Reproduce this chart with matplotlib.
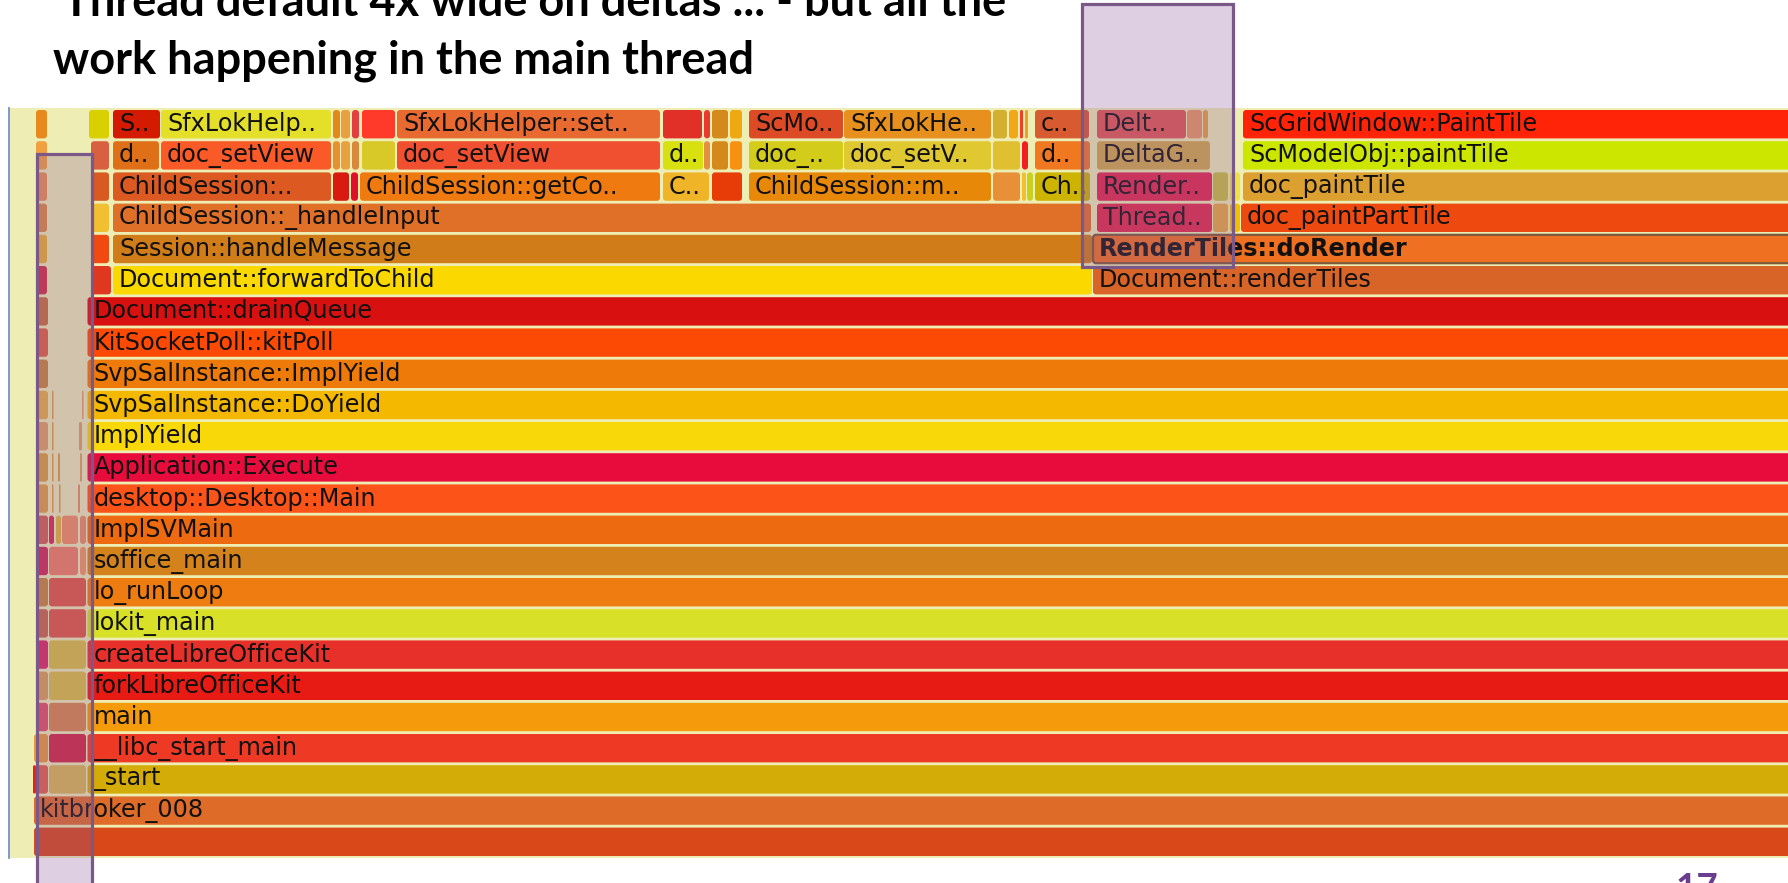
import matplotlib
matplotlib.use("Agg")
import matplotlib.pyplot as plt
from matplotlib.patches import FancyBboxPatch, Rectangle

# ---------------- data ----------------
title_lines = ['"Thread default 4x wide on deltas ... - but all the',
               "work happening in the main thread"]
page_number = "17"

# stack frames: depth (0 = root), first sample, last sample, label
frame_depth = []
frame_start = []
frame_end = []
frame_label = []
frame_color = []   # style only (flame palette)

def row(depth, items):
    for s, e, lab, col in items:
        frame_depth.append(depth)
        frame_start.append(s)
        frame_end.append(e)
        frame_label.append(lab)
        frame_color.append(col)

row(0, [(34, 1800, "", "#d84818")])
row(1, [(34, 1800, "kitbroker_008", "#de6c28")])
row(2, [(33, 36, "", "#f02010"), (36, 48, "", "#e06048"), (49, 86, "", "#d8b850"),
        (87.5, 1800, "_start", "#d4ac08")])
row(3, [(34, 48, "", "#e89a38"), (49, 86, "", "#d02840"),
        (87.5, 1800, "__libc_start_main", "#ee3a24")])
row(4, [(36, 48, "", "#e05060"), (49, 86, "", "#d88848"), (87.5, 1800, "main", "#f59a0a")])
row(5, [(36, 48, "", "#d8a050"), (49, 86, "", "#d8c040"),
        (87.5, 1800, "forkLibreOfficeKit", "#e81a14")])
row(6, [(36, 48, "", "#d82a60"), (49, 86, "", "#d8c040"),
        (87.5, 1800, "createLibreOfficeKit", "#e8302a")])
row(7, [(36, 48, "", "#c86848"), (49, 86, "", "#e05840"), (87.5, 1800, "lokit_main", "#d8e028")])
row(8, [(36, 48, "", "#c88838"), (49, 86, "", "#e05840"), (87.5, 1800, "lo_runLoop", "#ee7c10")])
row(9, [(36, 48, "", "#d02c50"), (49, 78, "", "#f08060"), (80, 86, "", "#f09860"),
        (87.5, 1800, "soffice_main", "#d4821c")])
row(10, [(36, 48, "", "#d06050"), (49, 54, "", "#d82850"), (56, 61, "", "#e0b838"),
         (62, 78, "", "#f09060"), (80, 86, "", "#e89060"), (87.5, 1800, "ImplSVMain", "#ee6a10")])
row(11, [(36, 48, "", "#e0a040"), (52, 53.5, "", "#e0a040"), (59, 60.5, "", "#d8a040"),
         (78, 80, "", "#e89060"), (87.5, 1800, "desktop::Desktop::Main", "#fc5418")])
row(12, [(36, 48, "", "#d8a038"), (52, 53.5, "", "#e0a040"), (58, 60, "", "#d8a040"),
         (80, 82, "", "#e0a060"), (87.5, 1800, "Application::Execute", "#e80c3c")])
row(13, [(36, 48, "", "#e0a060"), (52, 53.5, "", "#e0a040"), (79, 82, "", "#e0a060"),
         (87.5, 1800, "ImplYield", "#f8d808")])
row(14, [(36, 48, "", "#e8b040"), (52, 53.5, "", "#e0a040"), (82, 83.5, "", "#e0a060"),
         (87.5, 1800, "SvpSalInstance::DoYield", "#f4b800")])
row(15, [(36, 48, "", "#c88838"), (87.5, 1800, "SvpSalInstance::ImplYield", "#ee7a0a")])
row(16, [(36, 48, "", "#e06040"), (87.5, 1800, "KitSocketPoll::kitPoll", "#fc4a04")])
row(17, [(36, 48, "", "#c87038"), (87.5, 1800, "Document::drainQueue", "#d81010")])
row(18, [(36, 47, "", "#d03040"), (91, 111, "", "#e03820"),
         (113, 1092, "Document::forwardToChild", "#fad800"),
         (1093, 1800, "Document::renderTiles", "#d86428")])
row(19, [(36, 47, "", "#e8b030"), (91, 109, "", "#f04a10"),
         (113, 1092, "Session::handleMessage", "#d07c18"),
         (1093, 1800, "RenderTiles::doRender", "#ee7020")])
row(20, [(36, 47, "", "#d88a40"), (91, 109, "", "#f0c030"),
         (113, 1091, "ChildSession::_handleInput", "#e07028"),
         (1097, 1212, "Thread..", "#e02c48"), (1213, 1228, "", "#e8a840"),
         (1230, 1240, "", "#f0c000"), (1241, 1800, "doc_paintPartTile", "#ee4a10")])
row(21, [(36, 47, "", "#e89050"), (91, 109, "", "#d85a20"),
         (113, 331, "ChildSession:..", "#dc5a22"), (333, 349, "", "#d81a10"),
         (351, 358, "", "#e0102a"), (360, 660, "ChildSession::getCo..", "#ee7a10"),
         (663, 709, "C..", "#f0b428"), (712, 742, "", "#e83c08"),
         (749, 991, "ChildSession::m..", "#e88808"), (993, 1020, "", "#e89038"),
         (1022, 1026, "", "#f0c030"), (1027, 1033, "", "#c8d020"),
         (1035, 1090, "Ch..", "#ccb400"), (1097, 1212, "Render..", "#e02848"),
         (1213, 1228, "", "#c8c040"), (1230, 1240, "", "#f0e040"),
         (1243, 1800, "doc_paintTile", "#dca030")])
row(22, [(36, 47, "", "#f0a040"), (91, 109, "", "#d86040"),
         (113, 159, "d..", "#e07018"), (161, 331, "doc_setView", "#fa5a28"),
         (333, 340, "", "#e89030"), (341, 350, "", "#e8a040"), (352, 359, "", "#d8883a"),
         (362, 395, "", "#d8c828"), (397, 660, "doc_setView", "#f05030"),
         (663, 703, "d..", "#d8e010"), (704, 710, "", "#e09040"), (712, 728, "", "#d48a1a"),
         (730, 742, "", "#f89010"), (749, 843, "doc_..", "#d4cc1a"),
         (844, 991, "doc_setV..", "#e0c830"), (993, 1020, "", "#e0c030"),
         (1022, 1028, "", "#f02020"), (1035, 1090, "d..", "#f07820"),
         (1097, 1210, "DeltaG..", "#d0a848"), (1243, 1800, "ScModelObj::paintTile", "#cce600")])
row(23, [(36, 47, "", "#e8891b"), (89, 109, "", "#d8d000"),
         (113, 160, "S..", "#d41a00"), (161, 331, "SfxLokHelp..", "#e4e02a"),
         (333, 340, "", "#e08a18"), (341, 350, "", "#e8a040"), (352, 359, "", "#e04040"),
         (362, 395, "", "#ff3a2a"), (397, 660, "SfxLokHelper::set..", "#e86a30"),
         (663, 702, "", "#e03028"), (704, 710, "", "#e83a30"), (712, 728, "", "#d48a1a"),
         (730, 742, "", "#f0a810"), (749, 843, "ScMo..", "#dc4a26"),
         (844, 991, "SfxLokHe..", "#e8901e"), (993, 1007, "", "#d4b030"),
         (1009, 1018, "", "#f0a818"), (1020, 1023, "", "#f04020"), (1025, 1028, "", "#f0a020"),
         (1035, 1089, "c..", "#d85a30"), (1097, 1186, "Delt..", "#e05a50"),
         (1187, 1202, "", "#e89860"), (1203, 1208, "", "#e8a040"),
         (1243, 1800, "ScGridWindow::PaintTile", "#ff2408")])

selected_frame = "RenderTiles::doRender"

# highlighted regions: sample range and depth range
highlight_x0 = [37, 1082]
highlight_x1 = [92, 1233]
highlight_d0 = [-0.9, 18.92]
highlight_d1 = [22.54, 27.35]

# ---------------- drawing ----------------
W, H = 1788, 883
PITCH = 31.2
Y0 = 857.4

fig = plt.figure(figsize=(W / 100, H / 100), dpi=100)
fig.patch.set_facecolor("white")
ax = fig.add_axes([0, 0, 1, 1])
ax.set_xlim(0, W)
ax.set_ylim((Y0 - H) / PITCH, Y0 / PITCH)
ax.axis("off")

# flame graph background
bg_d0 = (Y0 - 858) / PITCH
bg_d1 = (Y0 - 108) / PITCH
ax.add_patch(Rectangle((10, bg_d0), W, bg_d1 - bg_d0, facecolor="#eeeeb4",
                       edgecolor="none", zorder=0))
ax.plot([8.5, 8.5], [bg_d0, bg_d1], color="#6f90d0", lw=1.3, zorder=1)

BAR_H = 0.91
for d, s, e, lab, col in zip(frame_depth, frame_start, frame_end, frame_label, frame_color):
    w = e - s
    r = min(3.0, w / 2.0)
    sel = lab == selected_frame
    p = FancyBboxPatch((s, d + (1 - BAR_H) / 2), w, BAR_H,
                       boxstyle=f"round,pad=0,rounding_size={r}",
                       mutation_aspect=1 / PITCH,
                       facecolor=col,
                       edgecolor="#7a5a3a" if sel else "none",
                       lw=1.6 if sel else 0, zorder=2)
    ax.add_patch(p)
    if lab:
        ax.text(s + 6, d + 0.5, lab, ha="left", va="center", fontsize=17.2,
                family="DejaVu Sans", fontweight="bold" if sel else "normal",
                color="#111111", zorder=3)

# purple highlight boxes
for x0, x1, d0, d1 in zip(highlight_x0, highlight_x1, highlight_d0, highlight_d1):
    ax.add_patch(Rectangle((x0, d0), x1 - x0, d1 - d0,
                           facecolor=(0.54, 0.35, 0.60, 0.28),
                           edgecolor="#7a5888", lw=2.3, zorder=5))

# title lines
fig.text(45 / W, 1 - 16 / H, title_lines[0], ha="left", va="baseline",
         fontsize=32.5, family="Lato", fontweight="bold", color="#000000")
fig.text(53 / W, 1 - 74 / H, title_lines[1], ha="left", va="baseline",
         fontsize=32.5, family="Lato", fontweight="bold", color="#000000")

# page number
fig.text(1676 / W, 1 - 872 / H, page_number, ha="left", va="top",
         fontsize=26.5, family="Lato", fontweight="bold", color="#6b3d8f")

fig.savefig("out.png", dpi=100, facecolor="white")
